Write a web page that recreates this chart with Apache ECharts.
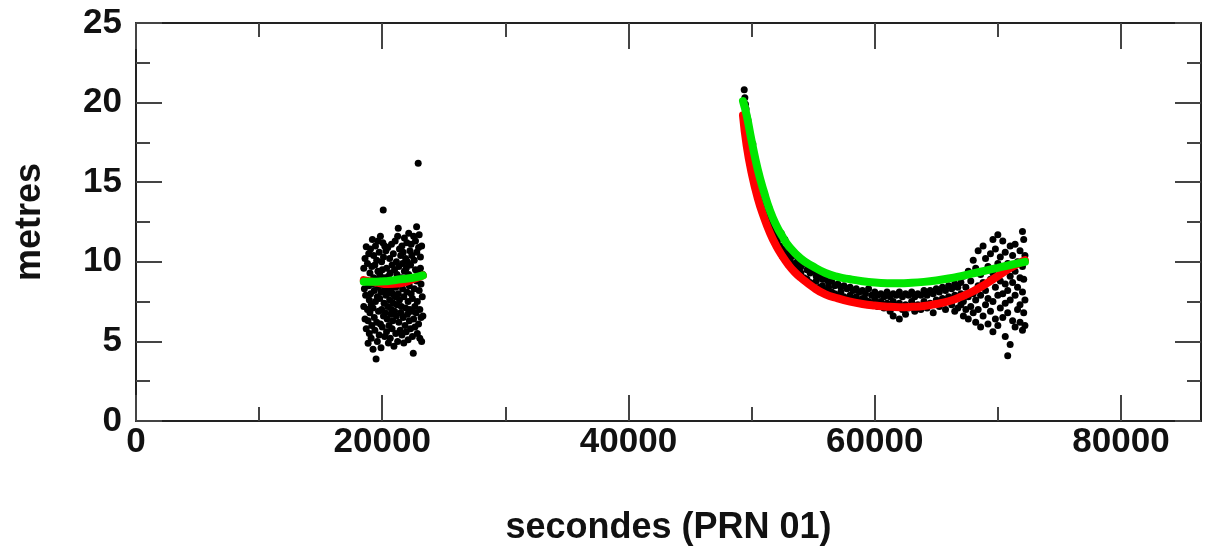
<!DOCTYPE html>
<html>
<head>
<meta charset="utf-8">
<script src="https://cdn.jsdelivr.net/npm/echarts@6/dist/echarts.min.js"></script>
<style>html,body{margin:0;padding:0;background:#fff}#c{width:1205px;height:546px}</style>
</head>
<body>
<div id="c"></div>
<script>
// ---- data ----
var xMajorTicks = [0, 20000, 40000, 60000, 80000];
var xMinorTicks = [10000, 30000, 50000, 70000];
var yTicks = [0, 5, 10, 15, 20, 25];

var pass1Points = [
[18500,7.2],[18500,9.6],[18550,8.3],[18600,6.4],[18600,10.2],[18650,7.9],[18700,10.95],[18700,5.8],[18750,8.8],[18800,7.0],[18800,9.9],[18850,4.88],[18850,6.3],[18900,8.5],[18900,10.5],[18950,5.5],[18950,7.6],[19000,9.3],[19000,6.8],[19050,10.8],[19050,8.0],[19100,5.2],[19100,7.3],[19150,9.7],[19150,6.0],[19200,11.4],[19200,8.6],[19250,7.1],[19250,4.5],[19300,9.0],[19300,10.4],[19350,6.5],[19350,8.2],[19400,5.7],[19400,9.8],[19450,7.5],[19450,11.0],[19500,3.9],[19500,8.9],[19550,6.2],[19550,10.1],[19600,7.8],[19600,5.0],[19650,9.4],[19650,11.3],[19700,6.9],[19700,8.4],[19750,10.6],[19750,5.4],[19800,7.7],[19800,9.2],[19850,6.1],[19850,11.6],[19900,8.1],[19900,4.6],[19950,10.0],[19950,7.0],[20000,9.5],[20000,5.9],[20050,8.7],[20050,11.2],[20080,13.25],[20100,6.6],[20100,10.3],[20150,7.4],[20150,9.0],[20200,5.3],[20200,11.0],[20250,8.3],[20250,6.8],[20300,10.7],[20300,7.9],[20350,9.6],[20350,5.6],[20400,8.0],[20400,6.4],[20450,10.9],[20450,7.2],[20500,9.1],[20500,4.9],[20550,8.5],[20550,6.0],[20600,10.2],[20600,7.6],[20650,5.2],[20650,9.3],[20700,6.7],[20700,8.2],[20750,11.1],[20750,7.0],[20800,5.8],[20800,9.8],[20850,8.0],[20850,6.3],[20900,10.5],[20900,7.4],[20950,4.7],[20950,8.8],[21000,6.9],[21000,9.5],[21050,11.3],[21050,7.8],[21100,5.5],[21100,8.4],[21150,10.0],[21150,6.6],[21200,9.2],[21200,7.3],[21250,5.0],[21250,11.6],[21300,12.1],[21300,8.0],[21350,6.2],[21350,9.7],[21400,7.6],[21400,10.8],[21450,5.7],[21450,8.6],[21500,10.4],[21500,6.8],[21550,9.0],[21550,7.2],[21600,11.0],[21600,5.4],[21650,8.3],[21650,9.9],[21700,6.5],[21700,10.6],[21750,7.8],[21750,4.9],[21800,9.4],[21800,11.5],[21850,6.0],[21850,8.7],[21900,10.2],[21900,7.1],[21950,5.6],[21950,9.6],[22000,8.1],[22000,11.2],[22050,6.7],[22050,10.0],[22100,7.5],[22100,5.1],[22150,9.2],[22150,11.8],[22200,6.3],[22200,8.5],[22250,10.7],[22250,7.0],[22300,5.8],[22300,9.8],[22350,8.0],[22350,11.1],[22400,6.9],[22400,10.4],[22450,7.7],[22450,5.3],[22520,4.25],[22500,9.0],[22550,11.6],[22550,6.4],[22600,8.3],[22600,10.1],[22650,7.2],[22650,5.9],[22700,9.5],[22700,11.3],[22750,6.8],[22790,12.2],[22800,8.8],[22800,10.6],[22850,7.5],[22850,5.5],[22900,9.3],[22920,16.19],[22950,6.1],[22950,10.9],[23000,8.2],[23000,11.7],[23050,7.0],[23050,5.2],[23100,9.6],[23100,10.3],[23150,6.5],[23150,8.6],[23200,11.0],[23200,5.0],[23250,7.8],[23300,9.2],[23300,6.6]
];

var pass2Points = [
[49400,20.8],[49450,20.3],[49500,19.9],[49550,19.6],[49600,19.2],[49650,18.6],[49700,18.9],[49800,18.1],[49900,17.5],[50000,17.1],[50100,17.4],[50200,16.5],[50300,15.8],[50400,16.0],[50500,15.1],[50600,15.4],[50650,14.6],[50750,14.2],[50800,14.8],[50900,13.9],[51000,13.6],[51100,14.0],[51200,13.1],[51300,12.8],[51400,13.4],[51500,12.4],[51600,12.1],[51700,12.7],[51800,11.8],[51900,11.6],[52000,12.2],[52100,11.3],[52200,11.6],[52300,11.0],[52400,11.8],[52500,10.8],[52600,10.6],[52700,11.4],[52800,10.4],[52900,10.5],[53000,10.9],[53100,10.1],[53200,10.3],[53300,9.9],[53400,10.4],[53500,9.7],[53600,9.6],[53700,10.0],[53800,9.4],[53900,9.6],[54000,9.3],
[54000,9.7],[54250,9.9],[54250,9.0],[54500,9.5],[54500,8.9],[54750,9.3],[54750,8.7],[55000,9.4],[55000,8.6],[55250,9.1],[55250,8.8],[55500,9.2],[55500,8.4],[55750,8.9],[55750,8.5],[56000,8.9],[56000,8.2],[56250,8.7],[56250,8.4],[56500,8.8],[56500,8.1],[56750,8.5],[56750,8.0],[57000,8.6],[57000,7.9],[57250,8.4],[57250,8.1],[57500,8.5],[57500,7.8],[57750,8.3],[57750,7.7],[58000,8.4],[58000,7.9],[58250,8.2],[58250,7.6],[58500,8.3],[58500,7.8],[58750,8.1],[58750,7.5],[59000,8.2],[59000,7.7],[59250,8.0],[59250,7.6],[59500,8.3],[59500,7.5],[59750,7.9],[59750,7.4],[60000,8.1],[60000,7.6],[60250,7.9],[60250,7.2],[60500,8.0],[60500,7.5],[60750,7.8],[60750,7.1],[61000,8.1],[61000,7.4],[61250,7.8],[61250,6.9],[61500,8.0],[61500,7.5],[61500,6.6],[61750,7.9],[61750,7.2],[62000,8.1],[62000,7.4],[62000,6.4],[62250,7.8],[62250,7.0],[62500,8.0],[62500,7.3],[62500,6.7],[62750,7.9],[62750,7.1],[63000,8.1],[63000,7.5],[63250,7.8],[63250,6.9],[63500,8.0],[63500,7.3],[63750,7.9],[63750,7.0],[64000,8.2],[64000,7.5],[64250,7.9],[64250,7.1],[64500,8.2],[64500,7.4],[64750,8.0],[64750,6.8],[65000,8.3],[65000,7.6],[65250,8.1],[65250,7.2],[65500,8.4],[65500,7.7],[65750,8.2],[65750,7.0],[66000,8.5],[66000,7.8],[66250,8.3],[66250,7.3],[66500,8.6],[66500,7.9],[66500,6.9],[66750,8.4],[66750,7.1],[67000,8.7],[67000,8.0],[67000,7.3],
[67200,9.1],[67200,7.5],[67200,6.6],[67400,8.4],[67400,7.0],[67600,9.4],[67600,7.8],[67600,6.4],[67800,8.8],[67800,7.2],[68000,10.1],[68000,8.0],[68000,6.8],[68200,9.6],[68200,7.6],[68200,6.2],[68400,10.7],[68400,8.5],[68400,7.0],[68600,9.2],[68600,7.9],[68600,5.9],[68800,11.0],[68800,8.7],[68800,6.6],[69000,10.2],[69000,8.2],[69000,7.3],[69200,9.7],[69200,7.7],[69200,6.1],[69400,10.5],[69400,8.9],[69400,6.9],[69600,11.4],[69600,9.3],[69600,7.5],[69600,5.6],[69800,10.8],[69800,8.4],[69800,6.4],[70000,11.7],[70000,9.9],[70000,7.9],[70000,6.0],[70200,10.3],[70200,8.8],[70200,7.1],[70400,11.3],[70400,9.6],[70400,8.0],[70400,6.5],[70600,10.6],[70600,8.6],[70600,7.4],[70600,5.3],[70800,9.9],[70800,8.2],[70800,6.8],[70800,4.1],[71000,11.0],[71000,9.1],[71000,7.6],[71000,4.8],[71200,10.4],[71200,8.7],[71200,6.3],[71400,11.1],[71400,9.4],[71400,7.9],[71400,5.9],[71600,10.0],[71600,8.4],[71600,7.0],[71800,10.7],[71800,9.0],[71800,7.3],[71800,6.2],[72000,11.9],[72000,9.7],[72000,8.1],[72000,5.7],[72100,11.4],[72100,8.9],[72100,6.8],[72200,10.4],[72200,7.6],[72200,6.0]
];

var redFit1 = [[18500,8.85],[19500,8.7],[20500,8.6],[21500,8.65],[22500,8.9],[23300,9.15]];
var greenFit1 = [[18500,8.75],[19500,8.75],[20500,8.8],[21500,8.9],[22500,9.0],[23300,9.15]];

var redFit2 = [[49300,19.2],[49600,17.3],[50000,15.6],[50500,14.0],[51000,12.8],[51500,11.8],[52000,11.0],[52500,10.35],[53000,9.8],[53500,9.35],[54000,9.0],[55000,8.4],[56000,7.95],[57000,7.7],[58000,7.5],[59000,7.35],[60000,7.25],[61000,7.18],[62000,7.15],[63000,7.17],[64000,7.22],[65000,7.35],[66000,7.52],[67000,7.8],[68000,8.15],[69000,8.6],[70000,9.1],[71000,9.6],[72200,10.1]];
var greenFit2 = [[49300,20.1],[49600,19.2],[50000,17.6],[50500,15.8],[51000,14.4],[51500,13.2],[52000,12.3],[52500,11.6],[53000,11.0],[54000,10.2],[55000,9.7],[56000,9.3],[57000,9.05],[58000,8.9],[59000,8.78],[60000,8.7],[61000,8.66],[62000,8.65],[63000,8.68],[64000,8.74],[65000,8.83],[66000,8.95],[67000,9.1],[68000,9.27],[69000,9.45],[70000,9.62],[71000,9.8],[72200,10.0]];

// ---- chart ----
var FONT = 'Liberation Sans, Arial, Helvetica, sans-serif';
var lineCol = '#222';
function xAx(pos, ticks, len, labels, showLine) {
  return {
    type: 'value', position: pos, min: 0, max: 86500,
    axisLine: {show: showLine, onZero: false, lineStyle: {color: lineCol, width: 2}},
    axisTick: {show: true, inside: true, length: len, customValues: ticks, lineStyle: {color: '#444', width: 2}},
    axisLabel: labels ? {show: true, customValues: ticks, formatter: function(v){return String(v);}, fontSize: 35, fontWeight: 'bold', fontFamily: FONT, color: '#111', margin: 4} : {show: false},
    splitLine: {show: false}
  };
}
function yAx(pos, labels) {
  return {
    type: 'value', position: pos, min: 0, max: 25, interval: 5,
    axisLine: {show: true, onZero: false, lineStyle: {color: lineCol, width: 2}},
    axisTick: {show: true, inside: true, length: 26, lineStyle: {color: '#444', width: 2}},
    minorTick: {show: true, splitNumber: 2, length: 14, lineStyle: {color: '#444', width: 2}},
    axisLabel: labels ? {show: true, customValues: yTicks, fontSize: 35, fontWeight: 'bold', fontFamily: FONT, color: '#111', margin: 14} : {show: false},
    splitLine: {show: false}, minorSplitLine: {show: false}
  };
}
var xa0 = xAx('bottom', xMajorTicks, 26, true, true);
xa0.name = 'secondes (PRN 01)';
xa0.nameLocation = 'middle';
xa0.nameGap = 89;
xa0.nameTextStyle = {fontSize: 36, fontWeight: 'bold', fontFamily: FONT, color: '#111'};
var ya0 = yAx('left', true);
ya0.name = 'metres';
ya0.nameLocation = 'middle';
ya0.nameGap = 88;
ya0.nameTextStyle = {fontSize: 36, fontWeight: 'bold', fontFamily: FONT, color: '#111'};

function fit(data, color) {
  return {type: 'line', data: data, xAxisIndex: 0, yAxisIndex: 0, smooth: true, symbol: 'none',
          lineStyle: {color: color, width: 8, cap: 'round'}, z: 3};
}
var option = {
  animation: false,
  backgroundColor: '#fff',
  grid: {left: 136, right: 4, top: 23, bottom: 125, containLabel: false, outerBoundsMode: 'none'},
  xAxis: [xa0, xAx('bottom', xMinorTicks, 14, false, false), xAx('top', xMajorTicks, 26, false, true), xAx('top', xMinorTicks, 14, false, false)],
  yAxis: [ya0, yAx('right', false)],
  series: [
    {type: 'scatter', data: pass1Points, symbolSize: 7, itemStyle: {color: '#000', opacity: 1}, z: 2},
    {type: 'scatter', data: pass2Points, symbolSize: 7, itemStyle: {color: '#000', opacity: 1}, z: 2},
    fit(redFit1, '#ff0000'), fit(greenFit1, '#00e600'),
    fit(redFit2, '#ff0000'), fit(greenFit2, '#00e600')
  ]
};
var chart = echarts.init(document.getElementById('c'), null, {renderer: 'canvas'});
chart.setOption(option);
</script>
</body>
</html>
